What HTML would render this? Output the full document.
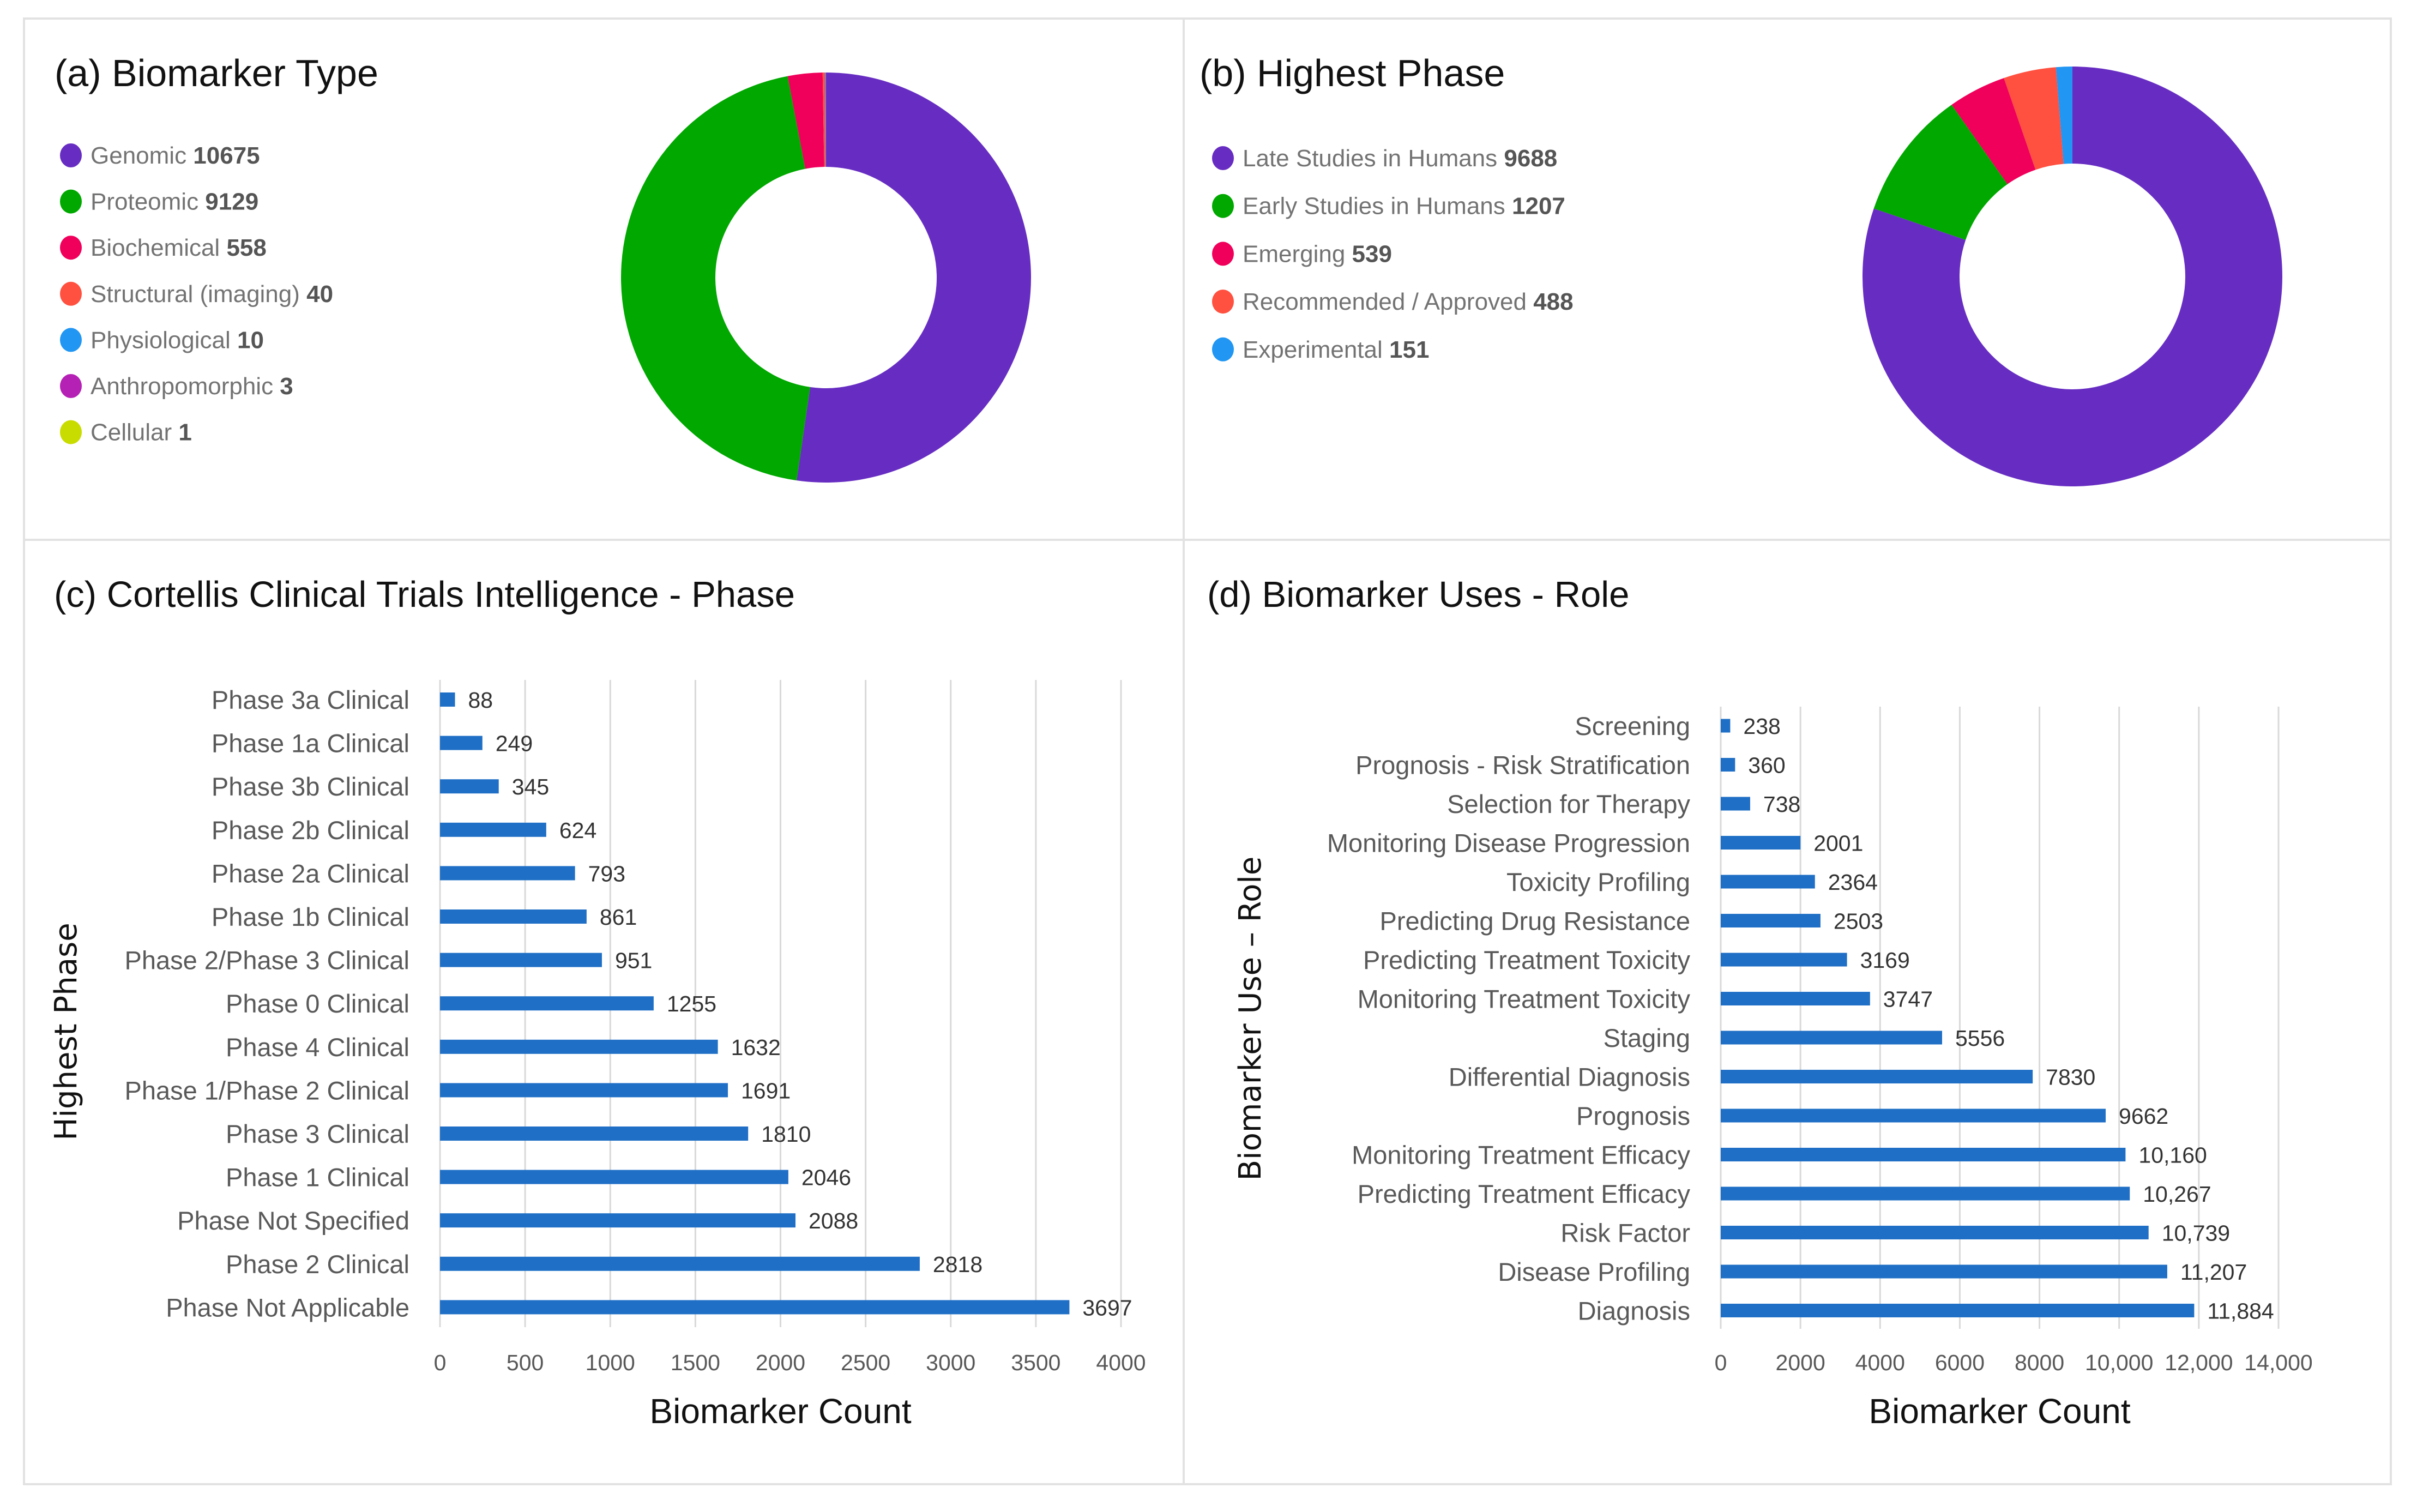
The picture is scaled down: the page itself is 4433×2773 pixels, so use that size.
<!DOCTYPE html>
<html><head><meta charset="utf-8">
<style>
html,body{margin:0;padding:0;background:#fff;}
svg{display:block;}
text{font-family:"Liberation Sans",sans-serif;}
</style></head>
<body>
<svg id="root" xmlns="http://www.w3.org/2000/svg" width="4433" height="2773" viewBox="0 0 4433 2773">
<rect x="0" y="0" width="4433" height="2773" fill="#fff"/>
<g fill="none" stroke="#e2e2e2" stroke-width="4">
<rect x="44" y="34" width="4341" height="2688"/>
<line x1="2171" y1="34" x2="2171" y2="2722"/>
<line x1="44" y1="990" x2="4385" y2="990"/>
</g>
<text x="100" y="158" font-size="70" fill="#111">(a) Biomarker Type</text>
<text x="2200" y="158" font-size="70" fill="#111">(b) Highest Phase</text>
<text x="99" y="1113" font-size="67" fill="#111">(c) Cortellis Clinical Trials Intelligence - Phase</text>
<text x="2214" y="1113" font-size="67" fill="#111">(d) Biomarker Uses - Role</text>
<g id="pa"></g>
<g id="pb"></g>
<g id="pc"></g>
<g id="pd"></g>
</svg>
<script>
const aLabels=["Genomic","Proteomic","Biochemical","Structural (imaging)","Physiological","Anthropomorphic","Cellular"];
const aValues=[10675,9129,558,40,10,3,1];
const aColors=["#672dc2","#00a800","#f0005a","#ff5040","#2196f3","#b520b5","#c8dc00"];
const bLabels=["Late Studies in Humans","Early Studies in Humans","Emerging","Recommended / Approved","Experimental"];
const bValues=[9688,1207,539,488,151];
const bColors=["#672dc2","#00a800","#f0005a","#ff5040","#2196f3"];
const cCategories=["Phase 3a Clinical","Phase 1a Clinical","Phase 3b Clinical","Phase 2b Clinical","Phase 2a Clinical","Phase 1b Clinical","Phase 2/Phase 3 Clinical","Phase 0 Clinical","Phase 4 Clinical","Phase 1/Phase 2 Clinical","Phase 3 Clinical","Phase 1 Clinical","Phase Not Specified","Phase 2 Clinical","Phase Not Applicable"];
const cValues=[88,249,345,624,793,861,951,1255,1632,1691,1810,2046,2088,2818,3697];
const cTicks=[0,500,1000,1500,2000,2500,3000,3500,4000];
const dCategories=["Screening","Prognosis - Risk Stratification","Selection for Therapy","Monitoring Disease Progression","Toxicity Profiling","Predicting Drug Resistance","Predicting Treatment Toxicity","Monitoring Treatment Toxicity","Staging","Differential Diagnosis","Prognosis","Monitoring Treatment Efficacy","Predicting Treatment Efficacy","Risk Factor","Disease Profiling","Diagnosis"];
const dValues=[238,360,738,2001,2364,2503,3169,3747,5556,7830,9662,10160,10267,10739,11207,11884];
const dTicks=[0,2000,4000,6000,8000,10000,12000,14000];
const NS="http://www.w3.org/2000/svg";
function mk(tag,attrs,parent){const e=document.createElementNS(NS,tag);for(const k in attrs)e.setAttribute(k,attrs[k]);parent.appendChild(e);return e;}
function fmt(v,comma){return comma&&v>=10000?v.toLocaleString('en-US'):String(v);}
function donut(g,labels,values,colors,cx,cy,R,r,lx,ly,dy){
  const tot=values.reduce((s,v)=>s+v,0);let a0=0;
  values.forEach((v,i)=>{
    const a1=a0+v/tot*Math.PI*2;
    const p=(a,rad)=>[cx+rad*Math.sin(a),cy-rad*Math.cos(a)];
    const [x1,y1]=p(a0,R),[x2,y2]=p(a1,R),[x3,y3]=p(a1,r),[x4,y4]=p(a0,r);
    const lg=(a1-a0)>Math.PI?1:0;
    const s=mk('path',{d:`M${x1},${y1}A${R},${R} 0 ${lg} 1 ${x2},${y2}L${x3},${y3}A${r},${r} 0 ${lg} 0 ${x4},${y4}Z`,fill:colors[i]},g);
    
    
    a0=a1;
    const y=ly+i*dy;
    const le=mk('g',{},g);
    
    
    mk('ellipse',{cx:lx,cy:y,rx:20,ry:22,fill:colors[i]},le);
    const t=mk('text',{x:lx+36,y:y+15,'font-size':44,fill:'#737373'},le);
    t.textContent=labels[i]+' ';
    const b=mk('tspan',{'font-weight':'bold',fill:'#555'},t);b.textContent=values[i];
  });
}
function hbar(g,cats,vals,ticks,x0,x1,gTop,gBot,y0,step,bh,lblRight,comma,yTitle,yTitleX,yTitleY){
  const max=ticks[ticks.length-1];
  const X=v=>x0+(v/max)*(x1-x0);
  ticks.forEach(t=>{
    const l=mk('line',{x1:X(t),x2:X(t),y1:gTop,y2:gBot,stroke:'#d9d9d9','stroke-width':3},g);
    
    
    const tx=mk('text',{x:X(t),y:2513,'font-size':41,fill:'#595959','text-anchor':'middle'},g);
    
    
    tx.textContent=fmt(t,comma);
  });
  cats.forEach((c,i)=>{
    const yc=y0+i*step;
    const lb=mk('text',{x:lblRight,y:yc+17,'font-size':47,fill:'#595959','text-anchor':'end'},g);
    
    
    lb.textContent=c;
    const r=mk('rect',{x:X(0),y:yc-bh/2,width:X(vals[i])-X(0),height:bh,fill:'#1f6fc6'},g);
    
    
    const vl=mk('text',{x:X(vals[i])+24,y:yc+15,'font-size':41,fill:'#333'},g);
    
    
    vl.textContent=fmt(vals[i],comma);
  });
  const xt=mk('text',{x:(x0+x1)/2,y:2610,'font-size':64,fill:'#111','text-anchor':'middle'},g);
  
  
  xt.textContent='Biomarker Count';
  const yt=mk('text',{x:0,y:0,'font-size':56,fill:'#111','text-anchor':'middle',transform:`translate(${yTitleX},${yTitleY}) rotate(-90)`,style:'font-family:"DejaVu Sans",sans-serif'},g);
  
  
  yt.textContent=yTitle;
}
donut(document.getElementById('pa'),aLabels,aValues,aColors,1515,509,376,203,130,285,84.6);
donut(document.getElementById('pb'),bLabels,bValues,bColors,3801,507,385,207,2243,290,87.7);
hbar(document.getElementById('pc'),cCategories,cValues,cTicks,807,2056,1247,2434,1283,79.6,26,751,false,'Highest Phase',140,1892);
hbar(document.getElementById('pd'),dCategories,dValues,dTicks,3156,4179,1296,2437,1331,71.5,25,3100,true,'Biomarker Use \u2013 Role',2312,1868);
</script>
</body></html>
